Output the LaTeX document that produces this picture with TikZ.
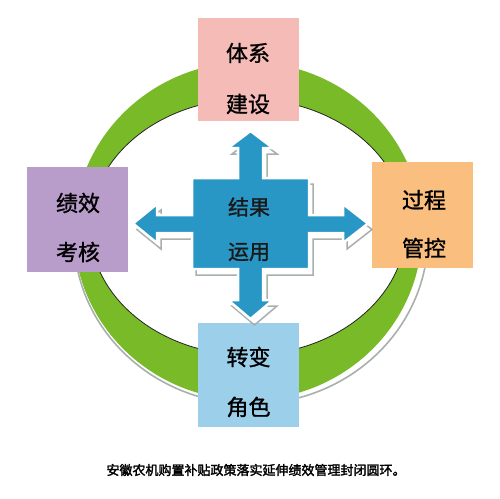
\documentclass[tikz,border=0pt]{standalone}
\usepackage{fontspec}
\newfontfamily\cjk[FakeBold=1.2]{Noto Sans CJK SC}
\newfontfamily\cjkcap[FakeBold=2]{Noto Sans CJK SC}
\definecolor{ringgreen}{RGB}{120,186,40}
\definecolor{shadowgrey}{RGB}{168,176,172}
\definecolor{pinkbox}{RGB}{245,187,183}
\definecolor{purplebox}{RGB}{184,157,203}
\definecolor{orangebox}{RGB}{250,190,126}
\definecolor{bluebox}{RGB}{155,207,234}
\definecolor{crossblue}{RGB}{40,151,197}
\newcommand\myCrossPath{(192,178) -- (238,178) -- (238,148) -- (228,148) -- (250.5,131) -- (273,148) -- (263,148) -- (263,178) -- (309,178) -- (309,215) -- (343,215) -- (343,204) -- (368,223.5) -- (343,243) -- (343,233) -- (309,233) -- (309,269) -- (263,269) -- (263,300) -- (273,300) -- (250.5,319) -- (228,300) -- (238,300) -- (238,269) -- (192,269) -- (192,233) -- (157,233) -- (157,243) -- (133,223.5) -- (157,204) -- (157,215) -- (192,215) -- cycle}
\begin{document}
\begin{tikzpicture}[x=1pt,y=-1pt,
  boxshape/.style={draw=none, inner sep=0, minimum width=101, minimum height=104},
  boxtxt/.style={font=\cjk\fontsize{22}{22}\selectfont, text=black, inner sep=0},
  centertxt/.style={font=\cjk\fontsize{21}{21}\selectfont, text=black!90, inner sep=0}]
\useasboundingbox (0,0) rectangle (500,498);
\fill[white] (0,0) rectangle (500,498);
% ring shadow
\begin{scope}
  \clip (0,245) rectangle (500,498);
  \draw[shadowgrey, line width=1.6] (251,236) ellipse [x radius=177, y radius=168];
\end{scope}
% ring
\fill[ringgreen, even odd rule] (248,231) ellipse [x radius=174, y radius=169]
  (248,227) ellipse [x radius=158, y radius=128];
\draw[black!85, line width=0.8] (248,227) ellipse [x radius=158, y radius=128];
% boxes
\node[boxshape, fill=pinkbox, minimum height=103] (sys) at (248,69.5) {};
\node[boxshape, fill=purplebox, minimum height=105] (perf) at (77.5,219.5) {};
\node[boxshape, fill=orangebox, minimum height=106] (proc) at (422.5,215) {};
\node[boxshape, fill=bluebox] (role) at (248.5,375) {};
\node[boxtxt] (sys1) at (248,53) {体系};
\node[boxtxt] (sys2) at (248,104) {建设};
\node[boxtxt] (perf1) at (78,203) {绩效};
\node[boxtxt] (perf2) at (78,252) {考核};
\node[boxtxt] (proc1) at (424,200) {过程};
\node[boxtxt] (proc2) at (424,248) {管控};
\node[boxtxt] (role1) at (248.5,357) {转变};
\node[boxtxt] (role2) at (248.5,407) {角色};
% cross arrow
\draw[shadowgrey, line width=1.5, shift={(4,6)}] \myCrossPath;
\filldraw[fill=crossblue, draw=white, line width=2.5] \myCrossPath;
\node[centertxt] (res1) at (249,207) {结果};
\node[centertxt] (res2) at (249,252) {运用};
% caption
\node[font=\cjkcap\fontsize{13}{13}\selectfont, text=black, inner sep=0] (cap) at (256,470) {安徽农机购置补贴政策落实延伸绩效管理封闭圆环。};
\end{tikzpicture}
\end{document}
